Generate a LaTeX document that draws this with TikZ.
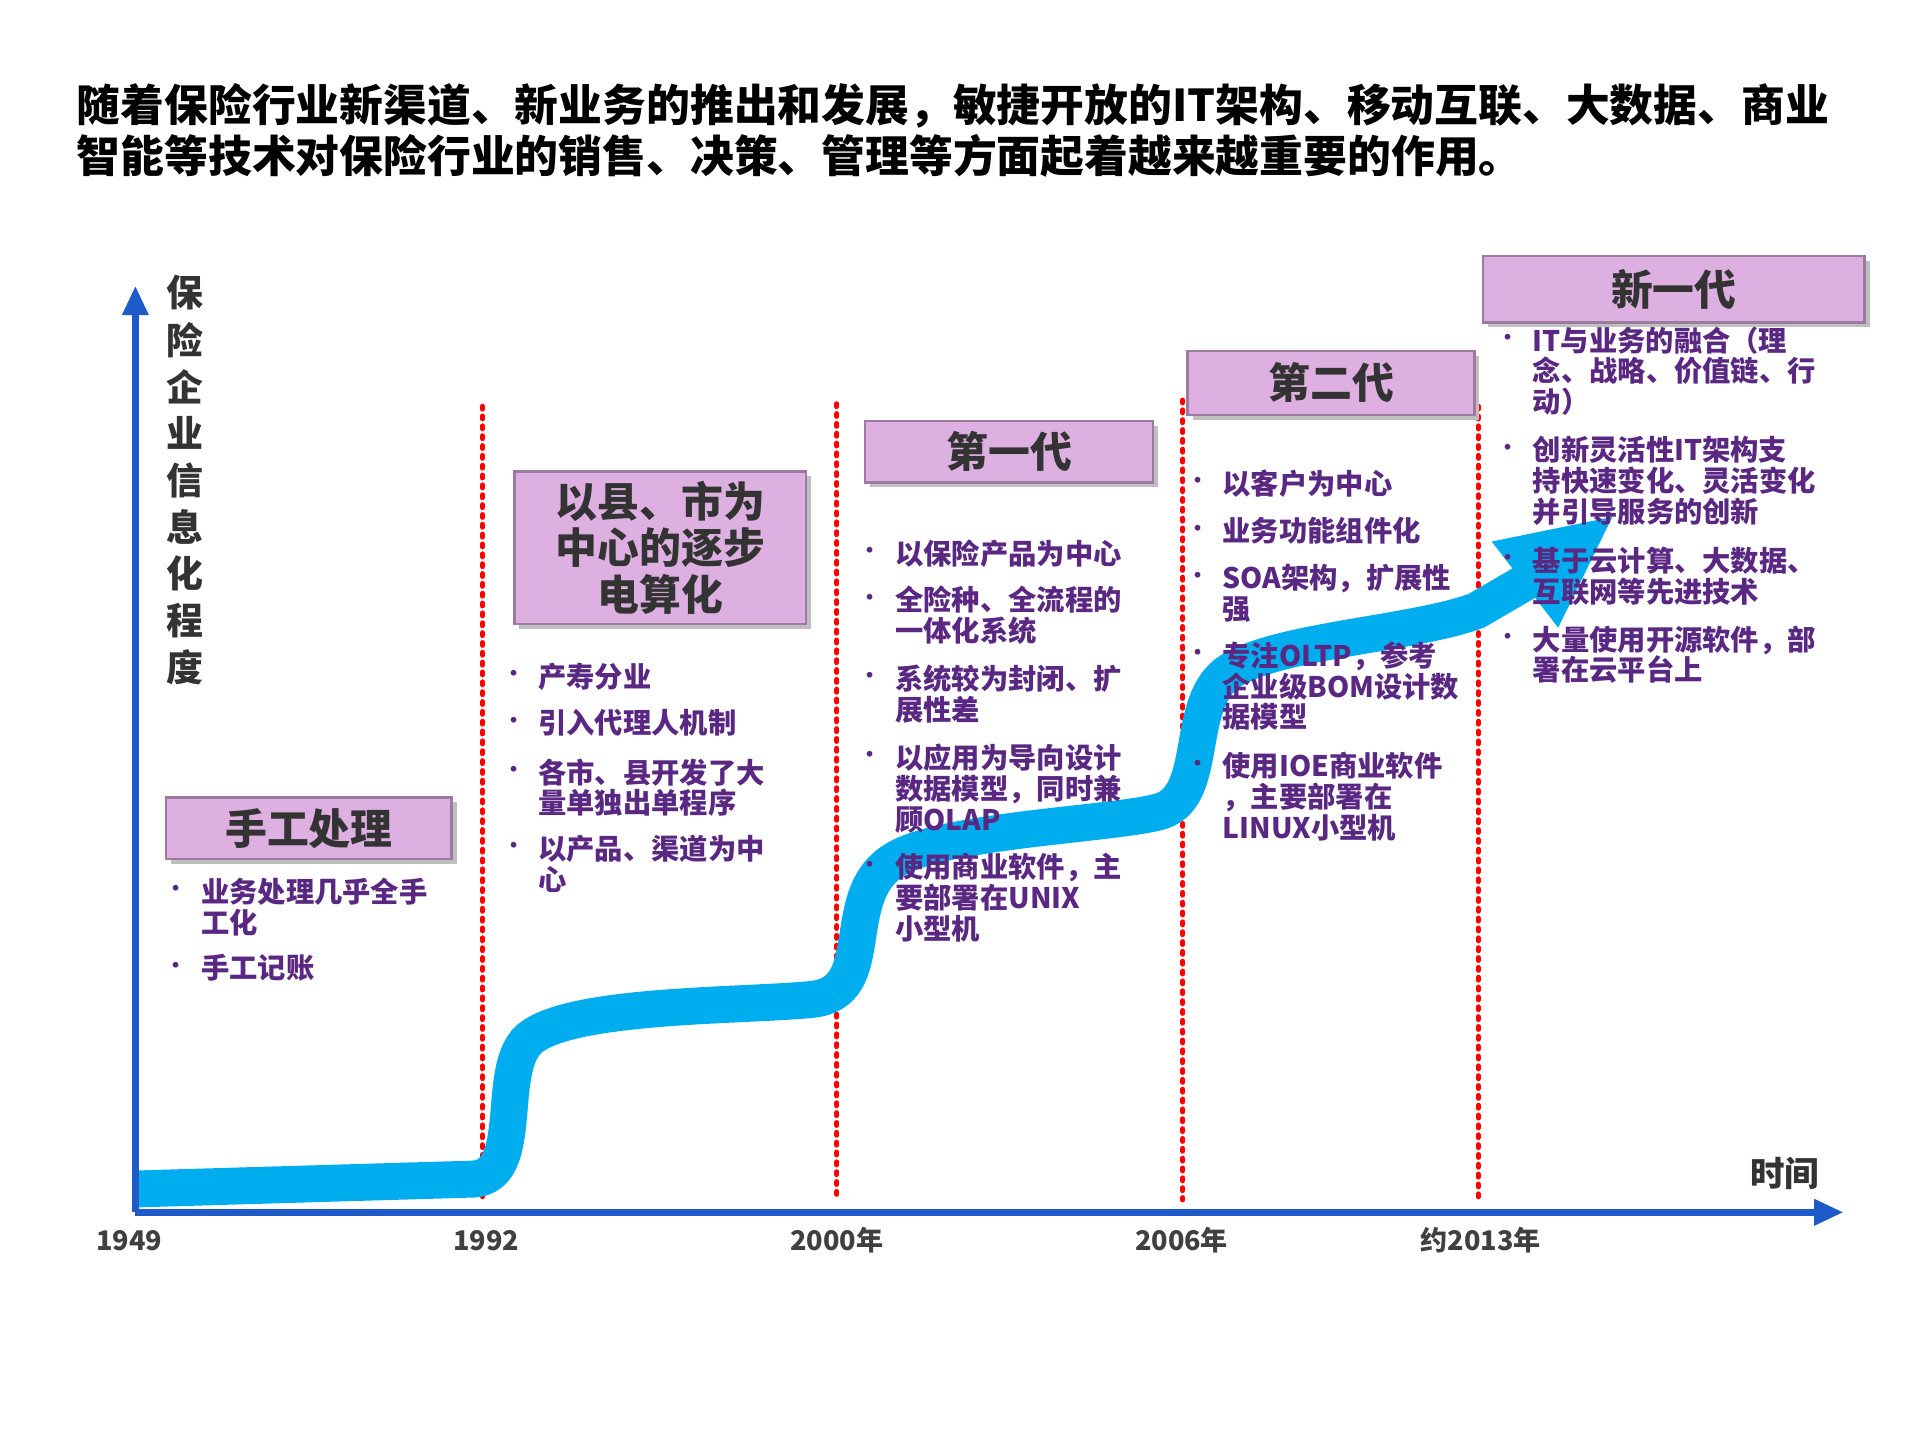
\documentclass[tikz,border=0pt]{standalone}
\usepackage{fontspec}
\setmainfont{Noto Sans CJK SC}
\usetikzlibrary{arrows.meta}
\definecolor{axblue}{RGB}{30,90,200}
\definecolor{boxpink}{RGB}{222,176,226}
\definecolor{txtpurple}{RGB}{90,40,130}
\definecolor{band}{RGB}{0,174,239}
\tikzset{
 gen/.style={draw=boxpink!70!black,fill=boxpink,line width=1pt,inner sep=0,font=\fontsize{17}{19}\selectfont\bfseries,text=black!80,align=center},
 itm/.style={anchor=north west,inner sep=0,align=left,text=txtpurple,font=\fontsize{11.5}{12.5}\selectfont\bfseries},
 bul/.style={inner sep=0,text=txtpurple,font=\fontsize{11}{12}\selectfont},
 sep/.style={red,line width=2pt,dash pattern=on 1.2pt off 2.8pt,line cap=round},
 yr/.style={font=\fontsize{11}{13}\selectfont\bfseries,text=black!75}
}
\newcommand\itm[4]{\node[bul] at (#1,#3) {•}; \node[itm] at (#2,#3-12) {#4};}
\begin{document}
\begin{tikzpicture}[x=0.5pt,y=-0.5pt]
\useasboundingbox (0,0) rectangle (1560,1170);
\node[anchor=west,inner sep=0,align=left,font=\fontsize{17.8}{21}\selectfont\bfseries] (title) at (62,106) {随着保险行业新渠道、新业务的推出和发展，敏捷开放的IT架构、移动互联、大数据、商业\\智能等技术对保险行业的销售、决策、管理等方面起着越来越重要的作用。};
% separators
\foreach \x/\t in {392/330,680/328,961/325,1201/330} \draw[sep] (\x,\t) -- (\x,975);
% band
\coordinate (tip) at (1310,420);
\draw[band,line width=15pt]
 (112,966) -- (385,958) .. controls (425,955) and (405,880) .. (425,850)
 .. controls (445,815) and (600,818) .. (660,812) .. controls (715,806) and (680,730) .. (725,700)
 .. controls (760,675) and (900,670) .. (940,660) .. controls (985,650) and (960,570) .. (1000,545)
 .. controls (1040,520) and (1150,515) .. (1200,496) -- (1248,468);
\fill[band] (tip) -- (1266,510) -- (1212,440) -- cycle;
% axes
\coordinate (o) at (110,985);
\coordinate (ytop) at (110,232);
\coordinate (xend) at (1498,985);
\draw[axblue,line width=3pt,-{Triangle[length=12pt,width=10pt]}] (o) -- (ytop);
\draw[axblue,line width=3pt,-{Triangle[length=12pt,width=10pt]}] (o) -- (xend);
\foreach \c [count=\i] in {保,险,企,业,信,息,化,程,度}
 \node[font=\fontsize{15}{15}\selectfont\bfseries,text=black!80] at (150,200+38*\i) {\c};
\node[font=\fontsize{14}{14}\selectfont\bfseries,text=black!80] (time) at (1450,953) {时间};
\node[yr] at (105,1008) {1949};
\node[yr] at (395,1008) {1992};
\node[yr] at (680,1008) {2000年};
\node[yr] at (960,1008) {2006年};
\node[yr] at (1203,1008) {约2013年};
% boxes
\fill[black!25] (139,652) rectangle (371,702);
\node[gen,minimum width=116pt,minimum height=25pt] (b0) at (251,673) {手工处理};
\fill[black!25] (422,387) rectangle (659,511);
\node[gen,minimum width=118.5pt,minimum height=62pt] (b1) at (536.5,445) {以县、市为\\中心的逐步\\电算化};
\fill[black!25] (707,346) rectangle (941,396);
\node[gen,minimum width=117pt,minimum height=25pt] (b2) at (820,367) {第一代};
\fill[black!25] (969,289) rectangle (1202,341);
\node[gen,minimum width=116.5pt,minimum height=26pt] (b3) at (1081.5,311) {第二代};
\fill[black!25] (1209,212) rectangle (1519,266);
\node[gen,minimum width=155pt,minimum height=27pt] (b4) at (1360,235) {新一代};
% bullets
\itm{143}{163}{725}{业务处理几乎全手\\工化}
\itm{143}{163}{787}{手工记账}
\itm{418}{437}{550}{产寿分业}
\itm{418}{437}{588}{引入代理人机制}
\itm{418}{437}{628}{各市、县开发了大\\量单独出单程序}
\itm{418}{437}{690}{以产品、渠道为中\\心}
\itm{707}{727}{450}{以保险产品为中心}
\itm{707}{727}{488}{全险种、全流程的\\一体化系统}
\itm{707}{727}{552}{系统较为封闭、扩\\展性差}
\itm{707}{727}{616}{以应用为导向设计\\数据模型，同时兼\\顾OLAP}
\itm{707}{727}{705}{使用商业软件，主\\要部署在UNIX\\小型机}
\itm{973}{993}{393}{以客户为中心}
\itm{973}{993}{432}{业务功能组件化}
\itm{973}{993}{470}{SOA架构，扩展性\\强}
\itm{973}{993}{533}{专注OLTP，参考\\企业级BOM设计数\\据模型}
\itm{973}{993}{623}{使用IOE商业软件\\，主要部署在\\LINUX小型机}
\itm{1225}{1245}{277}{IT与业务的融合（理\\念、战略、价值链、行\\动）}
\itm{1225}{1245}{366}{创新灵活性IT架构支\\持快速变化、灵活变化\\并引导服务的创新}
\itm{1225}{1245}{456}{基于云计算、大数据、\\互联网等先进技术}
\itm{1225}{1245}{520}{大量使用开源软件，部\\署在云平台上}
\end{tikzpicture}
\end{document}
